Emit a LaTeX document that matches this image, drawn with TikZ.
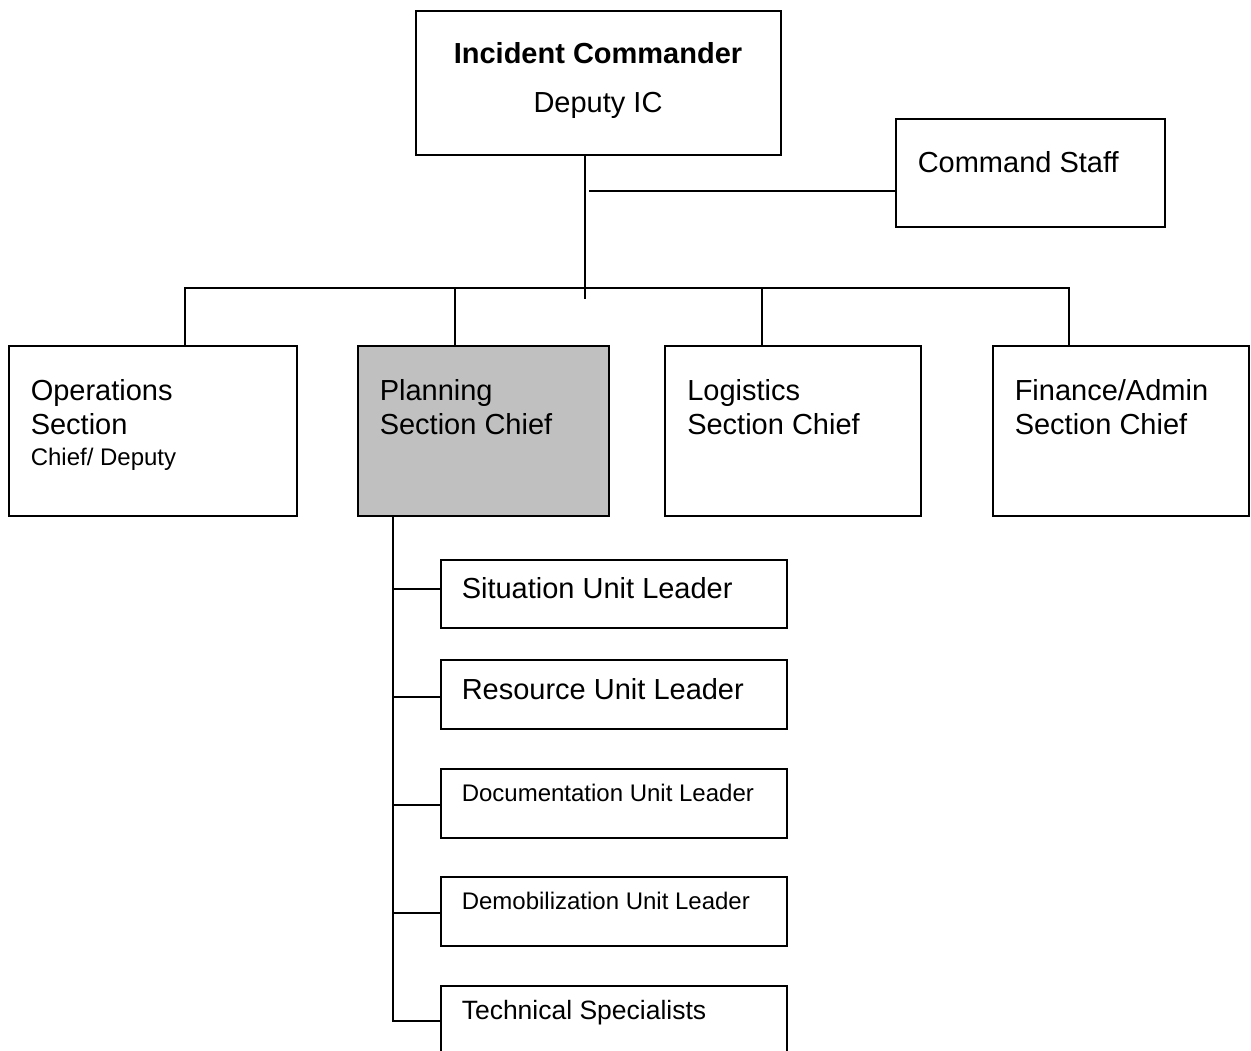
\documentclass[tikz,border=0pt]{standalone}
\usepackage{fontspec}
\setmainfont{Liberation Sans}
\begin{document}
\begin{tikzpicture}[x=1pt,y=-1pt,
  line width=1.5pt,
  box/.style={draw=black, line width=1.5pt, rectangle, inner sep=0pt, outer sep=0pt, anchor=north west},
  big/.style={font=\fontsize{29pt}{34pt}\selectfont, inner sep=0pt},
  mid/.style={font=\fontsize{26.5pt}{31pt}\selectfont, inner sep=0pt},
  small/.style={font=\fontsize{24pt}{28pt}\selectfont, inner sep=0pt},
  conn/.style={draw=black, line width=1.5pt}]
\useasboundingbox (0,0) rectangle (1251,1051);

% boxes
\node[box, minimum width=365pt, minimum height=144pt] (ic) at (416,11) {};
\node[box, minimum width=269pt, minimum height=108pt] (cs) at (896,119) {};
\node[box, minimum width=288pt, minimum height=170pt] (ops) at (9,346) {};
\node[box, fill={rgb,255:red,192;green,192;blue,192}, minimum width=251pt, minimum height=170pt] (plan) at (358,346) {};
\node[box, minimum width=256pt, minimum height=170pt] (log) at (665,346) {};
\node[box, minimum width=256pt, minimum height=170pt] (fin) at (993,346) {};
\node[box, minimum width=346pt, minimum height=68pt] (sit) at (441,560) {};
\node[box, minimum width=346pt, minimum height=69pt] (res) at (441,660) {};
\node[box, minimum width=346pt, minimum height=69pt] (doc) at (441,769) {};
\node[box, minimum width=346pt, minimum height=69pt] (demob) at (441,877) {};
\node[box, minimum width=346pt, minimum height=70pt] (tech) at (441,986) {};

% texts
\node[big, anchor=base, font=\fontsize{29pt}{34pt}\selectfont\bfseries] (ict1) at (598,64) {Incident Commander};
\node[big, anchor=base] (ict2) at (598,113) {Deputy IC};
\node[big, anchor=base west] (cst) at (917,173) {Command Staff};
\node[big, anchor=base west] (opst1) at (30,400) {Operations};
\node[big, anchor=base west] (opst2) at (30,434) {Section};
\node[small, anchor=base west] (opst3) at (30,465) {Chief/ Deputy};
\node[big, anchor=base west] (plant1) at (379,400) {Planning};
\node[big, anchor=base west] (plant2) at (379,434) {Section Chief};
\node[big, anchor=base west] (logt1) at (686.5,400) {Logistics};
\node[big, anchor=base west] (logt2) at (686.5,434) {Section Chief};
\node[big, anchor=base west] (fint1) at (1014,400) {Finance/Admin};
\node[big, anchor=base west] (fint2) at (1014,434) {Section Chief};
\node[big, anchor=base west] (sitt) at (461,598) {Situation Unit Leader};
\node[big, anchor=base west] (rest) at (461,699) {Resource Unit Leader};
\node[small, anchor=base west] (doct) at (461,801.5) {Documentation Unit Leader};
\node[small, anchor=base west] (demobt) at (461,909.5) {Demobilization Unit Leader};
\node[mid, anchor=base west] (techt) at (461,1019.5) {Technical Specialists};

% junction points
\coordinate (hub) at (585,299);
\coordinate (csj) at (589,191);
\coordinate (barL) at (185,288);
\coordinate (barR) at (1069,288);
\coordinate (dplan) at (455,288);
\coordinate (dlog) at (762,288);
\coordinate (spine) at (393,1021);
\coordinate (b1) at (393,589);
\coordinate (b2) at (393,697);
\coordinate (b3) at (393,805);
\coordinate (b4) at (393,913);

% connectors
\draw[conn] (ic.south -| hub) -- (hub);
\draw[conn] (csj) -- (csj -| cs.west);
\draw[conn] (barL |- ops.north) -- (barL) -- (barR) -- (barR |- fin.north);
\draw[conn] (dplan) -- (dplan |- plan.north);
\draw[conn] (dlog) -- (dlog |- log.north);
\draw[conn] (spine |- plan.south) -- (spine) -- (spine -| tech.west);
\draw[conn] (b1) -- (b1 -| sit.west);
\draw[conn] (b2) -- (b2 -| res.west);
\draw[conn] (b3) -- (b3 -| doc.west);
\draw[conn] (b4) -- (b4 -| demob.west);
\end{tikzpicture}
\end{document}
